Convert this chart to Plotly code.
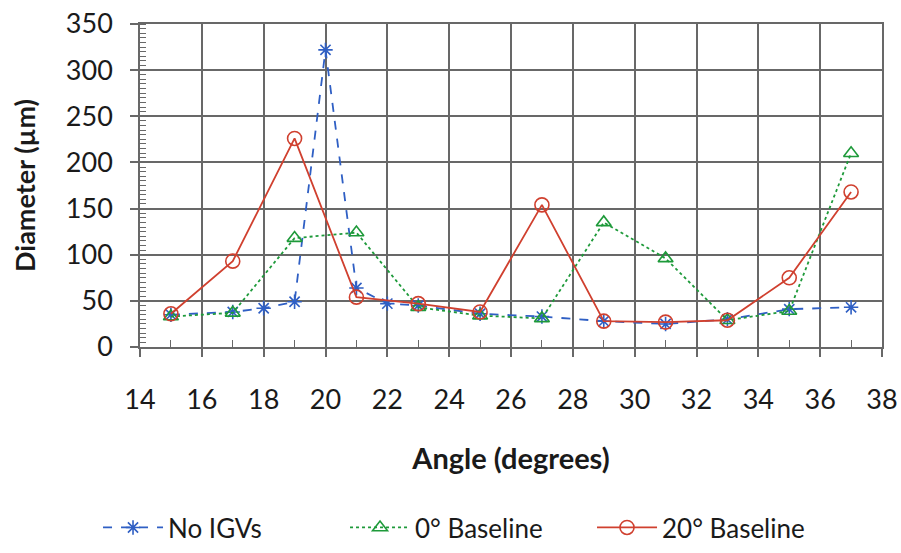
import plotly.graph_objects as go

x_noigv = [15, 17, 18, 19, 20, 21, 22, 23, 25, 27, 29, 31, 33, 35, 37]
y_noigv = [35, 38, 42, 49, 322, 64, 47, 45, 36, 33, 28, 25, 30, 41, 43]

x_base0 = [15, 17, 19, 21, 23, 25, 27, 29, 31, 33, 35, 37]
y_base0 = [33, 37, 118, 124, 43, 34, 31, 135, 96, 29, 39, 210]

x_base20 = [15, 17, 19, 21, 23, 25, 27, 29, 31, 33, 35, 37]
y_base20 = [36, 93, 226, 54, 47, 38, 154, 28, 27, 29, 75, 168]

x_ticks = list(range(14, 39, 2))
y_ticks = list(range(0, 351, 50))

FONT = "Lato, Carlito, Open Sans, sans-serif"
GRID = "#686868"

fig = go.Figure()
fig.add_trace(go.Scatter(
    x=x_noigv, y=y_noigv, name="No IGVs", mode="lines+markers",
    line=dict(color="#2f5fc4", width=1.8, dash="dash"),
    marker=dict(symbol="asterisk-open", size=12, color="#2f5fc4",
                line=dict(color="#2f5fc4", width=1.6)),
))
fig.add_trace(go.Scatter(
    x=x_base0, y=y_base0, name="0° Baseline", mode="lines+markers",
    line=dict(color="#1e9a3a", width=1.8, dash="dot"),
    marker=dict(symbol="triangle-up-open", size=13, color="#1e9a3a",
                line=dict(color="#1e9a3a", width=1.6)),
))
fig.add_trace(go.Scatter(
    x=x_base20, y=y_base20, name="20° Baseline", mode="lines+markers",
    line=dict(color="#d0402f", width=1.8),
    marker=dict(symbol="circle-open", size=14, color="#d0402f",
                line=dict(color="#d0402f", width=1.6)),
))

fig.update_layout(
    width=901, height=553,
    margin=dict(l=140, r=19, t=24, b=206, autoexpand=False),
    paper_bgcolor="white", plot_bgcolor="white",
    font=dict(family=FONT, size=27, color="#1a1a1a"),
    showlegend=True,
    legend=dict(orientation="h", x=0.52, xanchor="center", xref="container",
                y=0.046, yanchor="middle", yref="container",
                font=dict(size=26), tracegroupgap=0, itemwidth=60,
                entrywidth=172),
)
fig.update_xaxes(
    range=[14, 38], tickvals=x_ticks, ticktext=[str(v) for v in x_ticks],
    showgrid=True, gridcolor=GRID, gridwidth=1.6,
    showline=True, linecolor=GRID, linewidth=1.6, mirror=True,
    ticks="outside", ticklen=8, tickcolor=GRID, tickwidth=1.5,
    ticklabelstandoff=20, ticklabeloverflow="allow",
    minor=dict(tickvals=list(range(15, 38, 2)), ticks="inside", ticklen=7,
               tickcolor=GRID, tickwidth=1.2, showgrid=False),
    zeroline=False, automargin=False,
    title=dict(text="<b>Angle (degrees)</b>", standoff=34, font=dict(size=29)),
    tickfont=dict(size=27),
)
fig.update_yaxes(
    range=[0, 350], tickvals=y_ticks,
    showgrid=True, gridcolor=GRID, gridwidth=1.6,
    showline=True, linecolor=GRID, linewidth=1.6, mirror=True,
    ticks="outside", ticklen=8, tickcolor=GRID, tickwidth=1.5,
    ticklabelstandoff=12, ticklabeloverflow="allow",
    minor=dict(dtick=5, ticks="inside", ticklen=6, tickcolor=GRID, tickwidth=1, showgrid=False),
    zeroline=False, automargin=False,
    title=dict(text="<b>Diameter (µm)</b>", standoff=22, font=dict(size=27)),
    tickfont=dict(size=27),
)

# remove the browser's default 8px body margin so the figure fills the window exactly
fig.write_html(
    "out.html",
    config={"displayModeBar": False},
    post_script="document.body.style.margin='0';document.body.style.overflow='hidden';",
)
